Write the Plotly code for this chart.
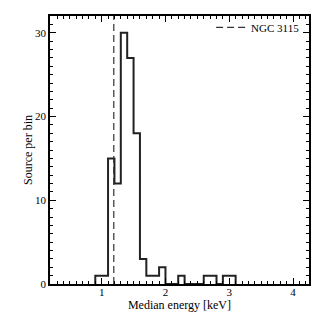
import plotly.graph_objects as go

bin_left_edges = [0.9, 1.0, 1.1, 1.2, 1.3, 1.4, 1.5, 1.6, 1.7, 1.8, 1.9, 2.0, 2.1, 2.2, 2.3, 2.4, 2.5, 2.6, 2.7, 2.8, 2.9, 3.0]
counts = [1, 1, 15, 12, 30, 27, 18, 3, 1, 1, 2, 0, 0, 1, 0, 0, 0, 1, 1, 0, 1, 1]
bin_width = 0.1
ngc3115_median = 1.19
legend_label = "NGC 3115"

xs = list(bin_left_edges) + [bin_left_edges[-1] + bin_width]
ys = list(counts) + [counts[-1]]
xs = [xs[0]] + xs + [xs[-1]]
ys = [0] + ys[:-1] + [ys[-1], 0]

fig = go.Figure()
fig.add_trace(go.Scatter(x=xs, y=ys, mode="lines", line=dict(shape="hv", color="#222", width=2),
                         showlegend=False, hoverinfo="skip"))
fig.add_trace(go.Scatter(x=[ngc3115_median, ngc3115_median], y=[0, 32], mode="lines",
                         line=dict(color="#333", width=1.2, dash="7px,4px"), name=legend_label))

font = dict(family="Liberation Serif", size=11, color="black")
axis_common = dict(showline=True, linecolor="black", linewidth=1.5, mirror="allticks",
                   ticks="inside", ticklen=6, tickwidth=1, tickcolor="black",
                   showgrid=False, zeroline=False, tickfont=font, automargin=False)
fig.update_layout(
    width=316, height=316,
    margin=dict(l=50, r=7, t=16, b=32),
    paper_bgcolor="white", plot_bgcolor="white",
    font=font,
    xaxis=dict(range=[0.19, 4.25], dtick=1, tick0=0, ticklabelstandoff=-3,
               minor=dict(dtick=0.1, ticklen=3, ticks="inside", tickcolor="black"),
               title=dict(text="Median energy [keV]", standoff=0, font=dict(family="Liberation Serif", size=12)),
               **axis_common),
    yaxis=dict(range=[0, 32], dtick=10,
               minor=dict(dtick=1, ticklen=3, ticks="inside", tickcolor="black"),
               title=dict(text="Source per bin", standoff=0, font=dict(family="Liberation Serif", size=12)),
               **axis_common),
    legend=dict(x=0.985, xanchor="right", y=1.012, yanchor="top", bgcolor="rgba(0,0,0,0)",
                font=dict(family="Liberation Serif", size=11), itemwidth=30),
)
fig.write_html("out.html", config={"displayModeBar": False},
               post_script="document.body.style.margin='0';document.body.style.overflow='hidden';")
